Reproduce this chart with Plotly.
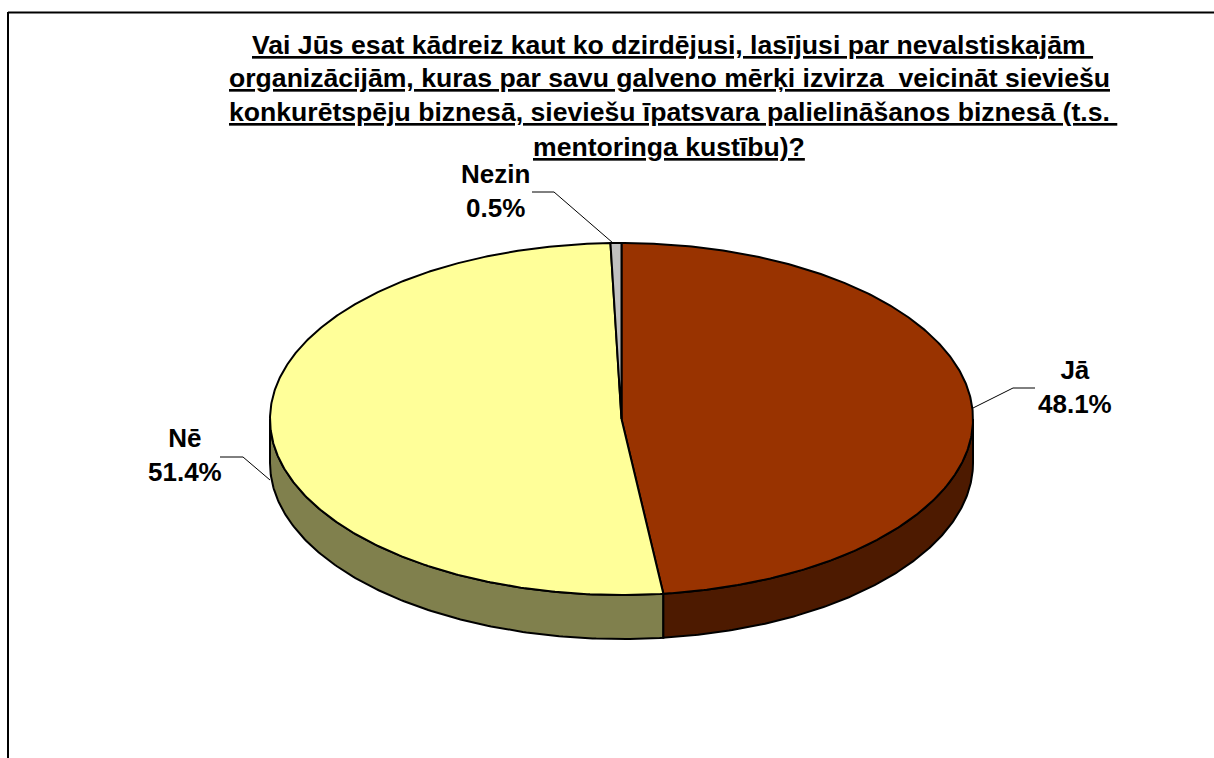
import numpy as np
import plotly.graph_objects as go

# Data
categories = ["Jā", "Nezin", "Nē"]
categories_order = ["Jā", "Nē", "Nezin"]
values = {"Jā": 48.1, "Nē": 51.4, "Nezin": 0.5}
top_colors = {"Jā": "#993300", "Nē": "#FFFF99", "Nezin": "#C0C0C0"}
side_colors = {"Jā": "#4D1A00", "Nē": "#80804D", "Nezin": "#606060"}
title_lines = [
    "Vai Jūs esat kādreiz kaut ko dzirdējusi, lasījusi par nevalstiskajām ",
    "organizācijām, kuras par savu galveno mērķi izvirza  veicināt sieviešu",
    "konkurētspēju biznesā, sieviešu īpatsvara palielināšanos biznesā (t.s. ",
    "mentoringa kustību)?",
]

W, H = 1214, 758
CX, CY, RX, RY, DEPTH = 621.5, 419, 351.5, 176, 44
FONT = "Liberation Sans, Arial, sans-serif"


def pt(theta, dy=0.0):
    """Project pie angle (radians clockwise from top) to pixel-axis coords."""
    return CX + RX * np.sin(theta), CY - RY * np.cos(theta) + dy


fig = go.Figure()

# Cumulative angles: Jā from the top clockwise, then Nē, then Nezin
angles = {}
cum = 0.0
total = sum(values.values())
for c in categories_order:
    a0 = cum / total * 2 * np.pi
    cum += values[c]
    angles[c] = (a0, cum / total * 2 * np.pi)

OUT = dict(color="black", width=2)

# Side walls: only the front half
for c in ["Nē", "Jā"]:
    a0, a1 = angles[c]
    lo, hi = max(a0, np.pi / 2), min(a1, 3 * np.pi / 2)
    t = np.linspace(lo, hi, 160)
    x0, y0 = pt(t)
    x1, y1 = pt(t[::-1], DEPTH)
    fig.add_trace(go.Scatter(
        x=np.r_[x0, x1, x0[0]], y=np.r_[y0, y1, y0[0]],
        mode="lines", fill="toself", fillcolor=side_colors[c],
        line=OUT, hoverinfo="skip", showlegend=False,
    ))

# Top wedges
for c in categories_order:
    a0, a1 = angles[c]
    t = np.linspace(a0, a1, max(8, int((a1 - a0) * 120)))
    x, y = pt(t)
    fig.add_trace(go.Scatter(
        x=np.r_[CX, x, CX], y=np.r_[CY, y, CY],
        mode="lines", fill="toself", fillcolor=top_colors[c],
        line=OUT, name=c, hoverinfo="skip", showlegend=False,
    ))

# Data labels with leader lines
label_pos = {"Jā": (1075, 387), "Nē": (184.5, 455), "Nezin": (495, 191)}
leaders = {
    "Jā": [(973, 408), (1013, 388), (1035, 388)],
    "Nē": [(270, 480), (243, 457), (220, 457)],
    "Nezin": [(613, 243), (554, 192), (532, 192)],
}
for c in categories:
    lx, ly = zip(*leaders[c])
    fig.add_trace(go.Scatter(x=lx, y=ly, mode="lines",
                             line=dict(color="black", width=1),
                             hoverinfo="skip", showlegend=False))
    fig.add_annotation(
        x=label_pos[c][0], y=label_pos[c][1], xref="x", yref="y",
        text=f"<b>{c}<br>{values[c]:.1f}%</b>", showarrow=False,
        font=dict(family=FONT, size=26, color="black"),
        align="center",
    )

# Title lines, underlined
title_y = [44.5, 78, 112, 147]
title_x = [672.5, 669.5, 672.5, 669]
for line, yy, xx in zip(title_lines, title_y, title_x):
    fig.add_annotation(
        x=xx, y=yy, xref="x", yref="y",
        text=f"<b><u>{line.replace(' ', '&nbsp;')}</u></b>",
        showarrow=False, align="center",
        font=dict(family=FONT, size=26.6, color="black"),
    )

# Chart frame: only the left and top edges are visible
fig.add_shape(type="line", x0=8, x1=8, y0=12, y1=758, xref="x", yref="y",
              line=dict(color="black", width=2))
fig.add_shape(type="line", x0=8, x1=1214, y0=12.5, y1=12.5, xref="x", yref="y",
              line=dict(color="black", width=2))

fig.update_xaxes(range=[0, W], visible=False, fixedrange=True)
fig.update_yaxes(range=[H, 0], visible=False, fixedrange=True)
fig.update_layout(width=W, height=H, margin=dict(l=0, r=0, t=0, b=0),
                  paper_bgcolor="white", plot_bgcolor="white", showlegend=False)
fig.write_html("out.html", config={"displayModeBar": False},
               post_script="document.body.style.margin='0';document.body.style.overflow='hidden';")
